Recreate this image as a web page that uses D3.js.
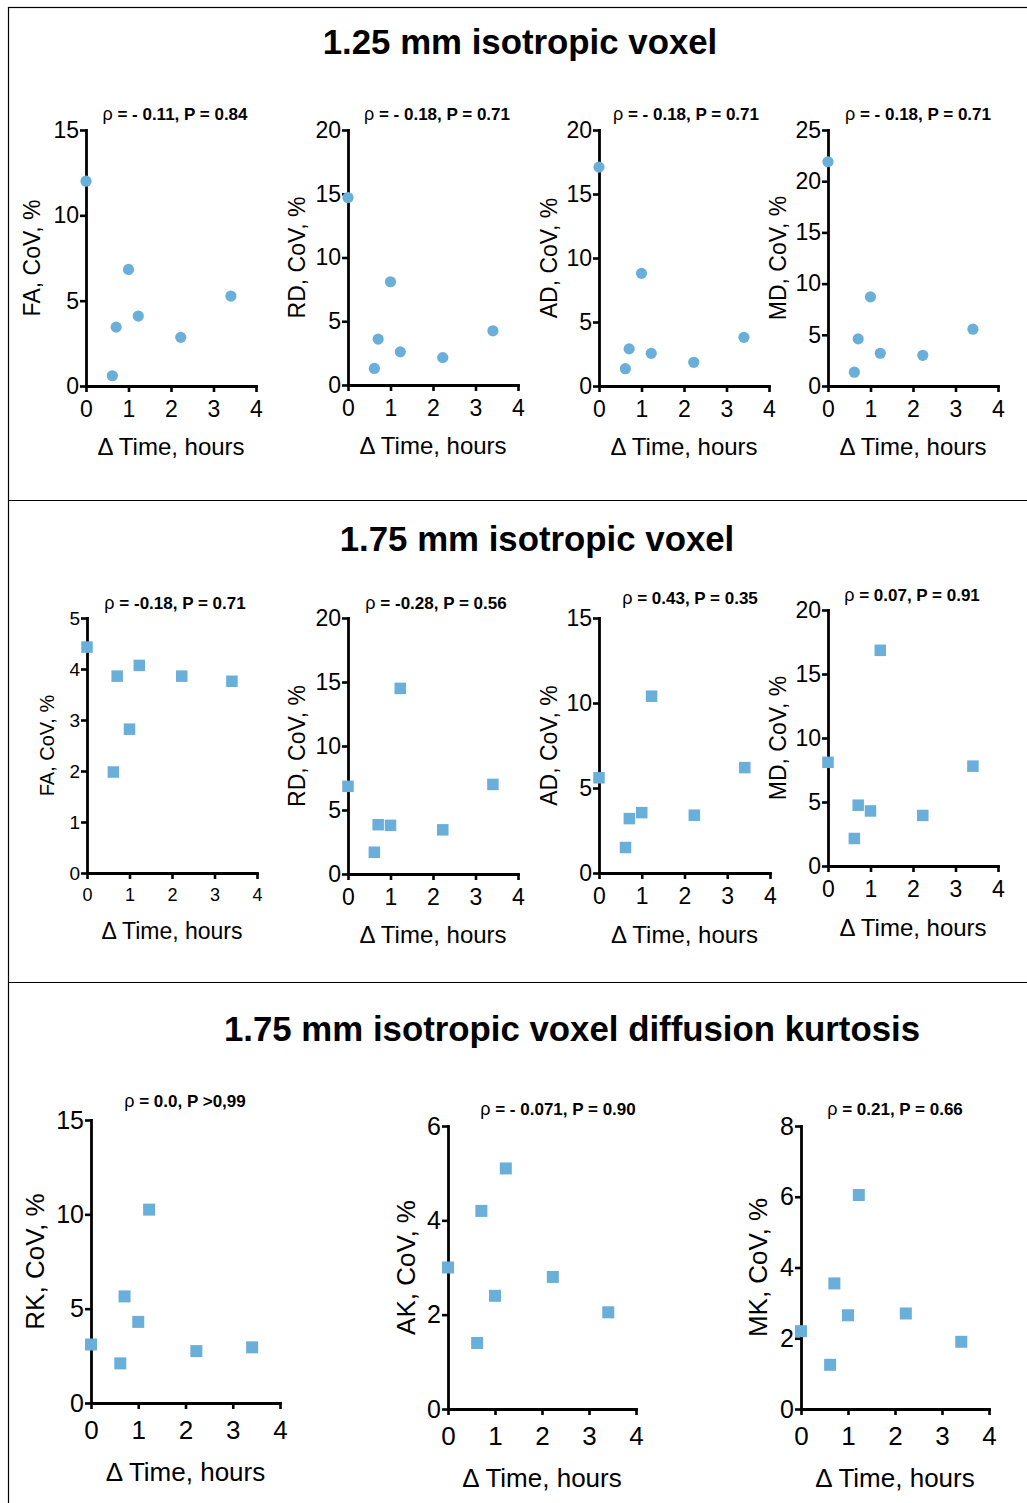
<!DOCTYPE html>
<html>
<head>
<meta charset="utf-8">
<script src="https://cdn.jsdelivr.net/npm/d3@7"></script>
<style>
  html, body { margin: 0; padding: 0; background: #fff; }
  svg { display: block; font-family: "Liberation Sans", Arial, Helvetica, sans-serif; }
</style>
</head>
<body>
<svg id="chart" width="1027" height="1503"></svg>
<script>
// Time between scans (hours), shared by every panel
const hours = [0, 0.62, 0.71, 1.0, 1.23, 2.23, 3.41];

// 1.25 mm isotropic voxel, CoV (%)
const fa125 = [12.0, 0.6, 3.45, 6.83, 4.1, 2.85, 5.27];
const rd125 = [14.7, 1.3, 3.6, 8.1, 2.6, 2.15, 4.25];
const ad125 = [17.1, 1.35, 2.9, 8.8, 2.55, 1.85, 3.8];
const md125 = [21.9, 1.35, 4.6, 8.7, 3.2, 3.0, 5.55];

// 1.75 mm isotropic voxel, CoV (%)
const fa175 = [4.43, 1.98, 3.86, 2.82, 4.07, 3.86, 3.76];
const rd175 = [6.85, 1.7, 3.85, 3.8, 14.5, 3.45, 7.0];
const ad175 = [5.6, 1.5, 3.2, 3.55, 10.4, 3.4, 6.2];
const md175 = [8.1, 2.15, 4.75, 4.3, 16.85, 3.95, 7.8];

// 1.75 mm isotropic voxel, diffusion kurtosis CoV (%)
const rk175 = [3.1, 2.1, 5.65, 4.3, 10.25, 2.75, 2.95];
const ak175 = [3.0, 1.4, 4.2, 2.4, 5.1, 2.8, 2.05];
const mk175 = [2.2, 1.25, 3.55, 2.65, 6.05, 2.7, 1.9];

// Axis labels, tick values and correlation statistics
const xTicks = [0, 1, 2, 3, 4];
const xTitle = "\u0394 Time, hours";
const sectionTitles = ["1.25 mm isotropic voxel", "1.75 mm isotropic voxel", "1.75 mm isotropic voxel diffusion kurtosis"];
const yTitles = ["FA, CoV, %", "RD, CoV, %", "AD, CoV, %", "MD, CoV, %",
                 "FA, CoV, %", "RD, CoV, %", "AD, CoV, %", "MD, CoV, %",
                 "RK, CoV, %", "AK, CoV, %", "MK, CoV, %"];
const stats = [" = - 0.11, P = 0.84", " = - 0.18, P = 0.71", " = - 0.18, P = 0.71", " = - 0.18, P = 0.71",
               " = -0.18, P = 0.71", " = -0.28, P = 0.56", " = 0.43, P = 0.35", " = 0.07, P = 0.91",
               " = 0.0, P >0,99", " = - 0.071, P = 0.90", " = 0.21, P = 0.66"];
const yMaxes = [15, 20, 20, 25, 5, 20, 15, 20, 15, 6, 8];
const ySteps = [5, 5, 5, 5, 1, 5, 5, 5, 5, 2, 2];
const series = [fa125, rd125, ad125, md125, fa175, rd175, ad175, md175, rk175, ak175, mk175];

// Panel geometry (pixels): tf = y tick font, xf = x tick font, xt = x title font, yt = y title font
const layout = [
  {x0: 86, x1: 256, yT: 130, yB: 386, mark: "circle", tf: 23, xf: 23, xt: 24, yt: 23, xPad: 9, xOff: 61, yTx: 32, ax: 175, ay: 120},
  {x0: 348, x1: 518, yT: 130, yB: 385, mark: "circle", tf: 23, xf: 23, xt: 24, yt: 23, xPad: 9, xOff: 61, yTx: 297, ax: 437, ay: 120},
  {x0: 599, x1: 769, yT: 130, yB: 386, mark: "circle", tf: 23, xf: 23, xt: 24, yt: 23, xPad: 9, xOff: 61, yTx: 549, ax: 686, ay: 120},
  {x0: 828, x1: 998, yT: 130, yB: 386, mark: "circle", tf: 23, xf: 23, xt: 24, yt: 23, xPad: 9, xOff: 61, yTx: 778, ax: 918, ay: 120},
  {x0: 87, x1: 257, yT: 618, yB: 873, mark: "square", tf: 19, xf: 18, xt: 23, yt: 20, xPad: 9, xOff: 58, yTx: 47, ax: 175, ay: 609},
  {x0: 348, x1: 518, yT: 618, yB: 874, mark: "square", tf: 23, xf: 23, xt: 24, yt: 23, xPad: 9, xOff: 61, yTx: 297, ax: 436, ay: 609},
  {x0: 599, x1: 770, yT: 618, yB: 873, mark: "square", tf: 23, xf: 23, xt: 24, yt: 23, xPad: 9, xOff: 62, yTx: 549, ax: 690, ay: 604},
  {x0: 828, x1: 998, yT: 610, yB: 866, mark: "square", tf: 23, xf: 23, xt: 24, yt: 23, xPad: 9, xOff: 62, yTx: 778, ax: 912, ay: 601},
  {x0: 91, x1: 280, yT: 1120, yB: 1403, mark: "square", tf: 25, xf: 26, xt: 26, yt: 26, xPad: 12, xOff: 69, yTx: 35, ax: 185, ay: 1107},
  {x0: 448, x1: 636, yT: 1126, yB: 1409, mark: "square", tf: 25, xf: 26, xt: 26, yt: 26, xPad: 12, xOff: 69, yTx: 406, ax: 558, ay: 1115},
  {x0: 801, x1: 989, yT: 1126, yB: 1409, mark: "square", tf: 25, xf: 26, xt: 26, yt: 26, xPad: 12, xOff: 69, yTx: 758, ax: 895, ay: 1115}
];

const titlePos = [{x: 520, y: 54}, {x: 537, y: 551}, {x: 572, y: 1041}];
const pointColor = "#6aafd9";

const svg = d3.select("#chart");

// Section frame and dividers
svg.append("rect").attr("x", 8.5).attr("y", 7.5).attr("width", 1040).attr("height", 1520)
  .attr("fill", "none").attr("stroke", "#000").attr("stroke-width", 1.2);
[500.5, 982.5].forEach(y => {
  svg.append("line").attr("x1", 8).attr("x2", 1027).attr("y1", y).attr("y2", y)
    .attr("stroke", "#000").attr("stroke-width", 1.2);
});

// Section titles
sectionTitles.forEach((t, i) => {
  svg.append("text").attr("x", titlePos[i].x).attr("y", titlePos[i].y)
    .attr("text-anchor", "middle").attr("font-weight", "bold").attr("font-size", 34.8)
    .text(t);
});

// Scatter panels
series.forEach((vals, i) => {
  const L = layout[i];
  const x = d3.scaleLinear().domain([0, 4]).range([L.x0, L.x1]);
  const y = d3.scaleLinear().domain([0, yMaxes[i]]).range([L.yB, L.yT]);
  const g = svg.append("g");

  const yAxis = d3.axisLeft(y).tickValues(d3.range(0, yMaxes[i] + 0.001, ySteps[i]))
    .tickSize(6).tickSizeOuter(0).tickPadding(1).tickFormat(d3.format("d"));
  const gy = g.append("g").attr("transform", `translate(${L.x0},0)`).call(yAxis);

  const xAxis = d3.axisBottom(x).tickValues(xTicks).tickSize(6).tickSizeOuter(0)
    .tickPadding(L.xPad).tickFormat(d3.format("d"));
  const gx = g.append("g").attr("transform", `translate(0,${L.yB})`).call(xAxis);

  [gx, gy].forEach(a => {
    a.selectAll("path.domain").attr("stroke-width", 2.8).attr("stroke-linecap", "square");
    a.selectAll(".tick line").attr("stroke-width", 2.6);
    a.selectAll("text").attr("font-family", "Liberation Sans, Arial, sans-serif").attr("fill", "#000");
  });
  gy.selectAll("text").attr("font-size", L.tf);
  gx.selectAll("text").attr("font-size", L.xf);

  // Axis titles
  g.append("text").attr("x", (L.x0 + L.x1) / 2).attr("y", L.yB + L.xOff).attr("dy", "0.35em")
    .attr("text-anchor", "middle").attr("font-size", L.xt).text(xTitle);
  g.append("text")
    .attr("transform", `translate(${L.yTx},${(L.yT + L.yB) / 2}) rotate(-90)`)
    .attr("dy", "0.35em").attr("text-anchor", "middle").attr("font-size", L.yt).text(yTitles[i]);

  // Correlation annotation
  const ann = g.append("text").attr("x", L.ax).attr("y", L.ay).attr("text-anchor", "middle")
    .attr("font-size", 17).attr("font-weight", "bold");
  ann.append("tspan").attr("font-weight", "normal").attr("font-size", 18).text("\u03C1");
  ann.append("tspan").text(stats[i]);

  // Points
  const pts = hours.map((h, k) => ({h, v: vals[k]}));
  if (L.mark === "circle") {
    g.selectAll("circle.pt").data(pts).join("circle").attr("class", "pt")
      .attr("cx", d => x(d.h)).attr("cy", d => y(d.v)).attr("r", 5.6).attr("fill", pointColor);
  } else {
    const s = i >= 8 ? 12 : 11.5;
    g.selectAll("rect.pt").data(pts).join("rect").attr("class", "pt")
      .attr("x", d => x(d.h) - s / 2).attr("y", d => y(d.v) - s / 2)
      .attr("width", s).attr("height", s).attr("fill", pointColor);
  }
});
</script>
</body>
</html>
